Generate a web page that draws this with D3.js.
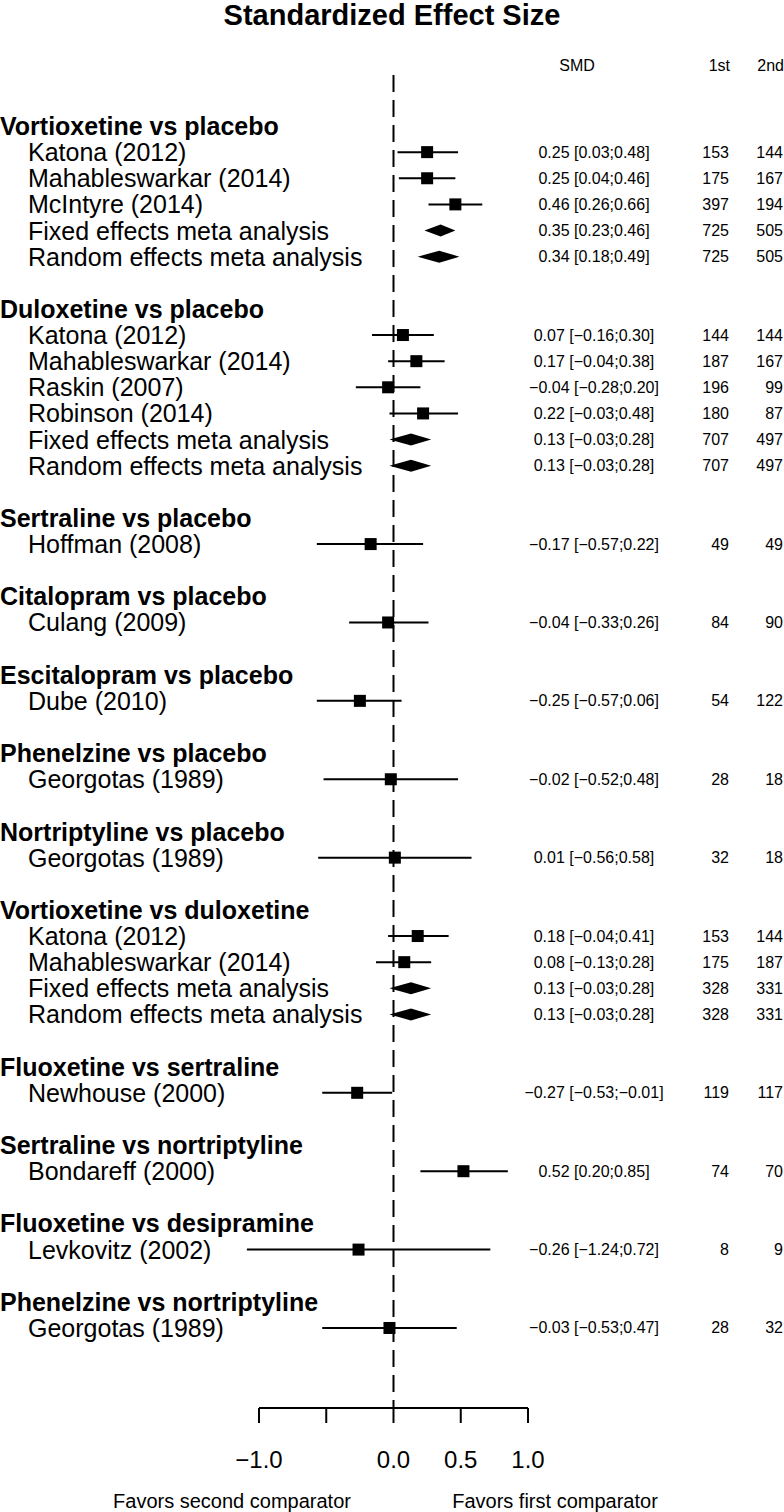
<!DOCTYPE html>
<html>
<head>
<meta charset="utf-8">
<script src="https://cdn.jsdelivr.net/npm/d3@7"></script>
<style>
  body { margin: 0; background: #fff; }
  svg { display: block; font-family: "Liberation Sans", Arial, Helvetica, sans-serif; }
</style>
</head>
<body>
<svg id="chart" width="784" height="1512"></svg>
<script>
// comparison headings
const groups = [
  "Vortioxetine vs placebo", "Duloxetine vs placebo", "Sertraline vs placebo",
  "Citalopram vs placebo", "Escitalopram vs placebo", "Phenelzine vs placebo",
  "Nortriptyline vs placebo", "Vortioxetine vs duloxetine", "Fluoxetine vs sertraline",
  "Sertraline vs nortriptyline", "Fluoxetine vs desipramine", "Phenelzine vs nortriptyline"
];

// one entry per study / pooled line
const studyGroup = [0, 0, 0, 0, 0, 1, 1, 1, 1, 1, 1, 2, 3, 4, 5, 6, 7, 7, 7, 7, 8, 9, 10, 11];
const studyLabels = [
  "Katona (2012)", "Mahableswarkar (2014)", "McIntyre (2014)", "Fixed effects meta analysis", "Random effects meta analysis",
  "Katona (2012)", "Mahableswarkar (2014)", "Raskin (2007)", "Robinson (2014)", "Fixed effects meta analysis", "Random effects meta analysis",
  "Hoffman (2008)", "Culang (2009)", "Dube (2010)", "Georgotas (1989)", "Georgotas (1989)",
  "Katona (2012)", "Mahableswarkar (2014)", "Fixed effects meta analysis", "Random effects meta analysis",
  "Newhouse (2000)", "Bondareff (2000)", "Levkovitz (2002)", "Georgotas (1989)"
];
const studyKind = [
  "s", "s", "s", "d", "d",
  "s", "s", "s", "s", "d", "d",
  "s", "s", "s", "s", "s",
  "s", "s", "d", "d",
  "s", "s", "s", "s"
];
const smd   = [0.25, 0.25, 0.46, 0.35, 0.34, 0.07, 0.17, -0.04, 0.22, 0.13, 0.13, -0.17, -0.04, -0.25, -0.02, 0.01, 0.18, 0.08, 0.13, 0.13, -0.27, 0.52, -0.26, -0.03];
const lower = [0.03, 0.04, 0.26, 0.23, 0.18, -0.16, -0.04, -0.28, -0.03, -0.03, -0.03, -0.57, -0.33, -0.57, -0.52, -0.56, -0.04, -0.13, -0.03, -0.03, -0.53, 0.20, -1.24, -0.53];
const upper = [0.48, 0.46, 0.66, 0.46, 0.49, 0.30, 0.38, 0.20, 0.48, 0.28, 0.28, 0.22, 0.26, 0.06, 0.48, 0.58, 0.41, 0.28, 0.28, 0.28, -0.01, 0.85, 0.72, 0.47];
const nFirst  = [153, 175, 397, 725, 725, 144, 187, 196, 180, 707, 707, 49, 84, 54, 28, 32, 153, 175, 328, 328, 119, 74, 8, 28];
const nSecond = [144, 167, 194, 505, 505, 144, 167, 99, 87, 497, 497, 49, 90, 122, 18, 18, 144, 187, 331, 331, 117, 70, 9, 32];

const axisTicks = [-1, -0.5, 0, 0.5, 1];
const axisTickLabels = ["−1.0", "", "0.0", "0.5", "1.0"];
const xLimits = [-1.09, 1.09];

const svg = d3.select("#chart");
const rowH = 26.13;
const firstRowY = 126;

// lay out rows: heading, studies, blank line
const rows = [];
let r = 0;
groups.forEach((g, gi) => {
  rows.push({ type: "head", label: g, row: r++ });
  studyGroup.forEach((sg, i) => {
    if (sg === gi) rows.push({ type: studyKind[i], label: studyLabels[i], i: i, row: r++ });
  });
  r++;
});

const y = d3.scaleLinear().domain([0, 1]).range([firstRowY, firstRowY + rowH]);
const x = d3.scaleLinear().domain([-1, 1]).range([259, 528]);
const clip = v => Math.max(xLimits[0], Math.min(xLimits[1], v));
const fmt = d3.format(".2f");

// title
svg.append("text")
  .attr("x", 392).attr("y", 25)
  .attr("text-anchor", "middle")
  .style("font-size", "29px").style("font-weight", "bold")
  .text("Standardized Effect Size");

// column headers
const headY = 71;
svg.append("text").attr("x", 577).attr("y", headY).attr("text-anchor", "middle")
  .style("font-size", "16px").text("SMD");
svg.append("text").attr("x", 730).attr("y", headY).attr("text-anchor", "end")
  .style("font-size", "16px").text("1st");
svg.append("text").attr("x", 784).attr("y", headY).attr("text-anchor", "end")
  .style("font-size", "16px").text("2nd");

// null line
const axisY = 1408;
svg.append("line")
  .attr("x1", x(0)).attr("x2", x(0))
  .attr("y1", 75).attr("y2", axisY)
  .attr("stroke", "#000").attr("stroke-width", 2)
  .attr("stroke-dasharray", "17,8");

// row labels
svg.append("g").selectAll("text")
  .data(rows)
  .join("text")
  .attr("x", d => d.type === "head" ? 0 : 28)
  .attr("y", d => y(d.row) + 9)
  .style("font-size", "25px")
  .style("font-weight", d => d.type === "head" ? "bold" : "normal")
  .text(d => d.label);

const studies = rows.filter(d => d.type !== "head");

// confidence intervals
svg.append("g").selectAll("line")
  .data(studies.filter(d => d.type === "s"))
  .join("line")
  .attr("x1", d => x(clip(lower[d.i])))
  .attr("x2", d => x(clip(upper[d.i])))
  .attr("y1", d => y(d.row)).attr("y2", d => y(d.row))
  .attr("stroke", "#000").attr("stroke-width", 2);

// squares
const sq = 12;
svg.append("g").selectAll("rect")
  .data(studies.filter(d => d.type === "s"))
  .join("rect")
  .attr("x", d => x(smd[d.i]) - sq / 2)
  .attr("y", d => y(d.row) - sq / 2)
  .attr("width", sq).attr("height", sq)
  .attr("fill", "#000");

// pooled diamonds
const dh = 6;
svg.append("g").selectAll("path")
  .data(studies.filter(d => d.type === "d"))
  .join("path")
  .attr("d", d => {
    const cy = y(d.row);
    return `M${x(lower[d.i])},${cy}L${x(smd[d.i])},${cy - dh}L${x(upper[d.i])},${cy}L${x(smd[d.i])},${cy + dh}Z`;
  })
  .attr("fill", "#000");

// right-hand columns
const cols = svg.append("g").style("font-size", "16px");
cols.selectAll("text.smd")
  .data(studies).join("text").attr("class", "smd")
  .attr("x", 594).attr("y", d => y(d.row) + 5.5)
  .attr("text-anchor", "middle")
  .text(d => `${fmt(smd[d.i])} [${fmt(lower[d.i])};${fmt(upper[d.i])}]`);
cols.selectAll("text.n1")
  .data(studies).join("text").attr("class", "n1")
  .attr("x", 729).attr("y", d => y(d.row) + 5.5)
  .attr("text-anchor", "end")
  .text(d => nFirst[d.i]);
cols.selectAll("text.n2")
  .data(studies).join("text").attr("class", "n2")
  .attr("x", 783).attr("y", d => y(d.row) + 5.5)
  .attr("text-anchor", "end")
  .text(d => nSecond[d.i]);

// x axis
const axis = svg.append("g").attr("transform", `translate(0,${axisY})`);
axis.append("line")
  .attr("x1", x(axisTicks[0])).attr("x2", x(axisTicks[axisTicks.length - 1]))
  .attr("stroke", "#000").attr("stroke-width", 2);
axis.selectAll("line.tick")
  .data(axisTicks).join("line").attr("class", "tick")
  .attr("x1", d => x(d)).attr("x2", d => x(d))
  .attr("y1", 0).attr("y2", 15)
  .attr("stroke", "#000").attr("stroke-width", 2);
axis.selectAll("text")
  .data(axisTicks).join("text")
  .attr("x", d => x(d)).attr("y", 60)
  .attr("text-anchor", "middle")
  .style("font-size", "24px")
  .text((d, i) => axisTickLabels[i]);

svg.append("text").attr("x", 232).attr("y", 1508).attr("text-anchor", "middle")
  .style("font-size", "20px").text("Favors second comparator");
svg.append("text").attr("x", 555).attr("y", 1508).attr("text-anchor", "middle")
  .style("font-size", "20px").text("Favors first comparator");
</script>
</body>
</html>
